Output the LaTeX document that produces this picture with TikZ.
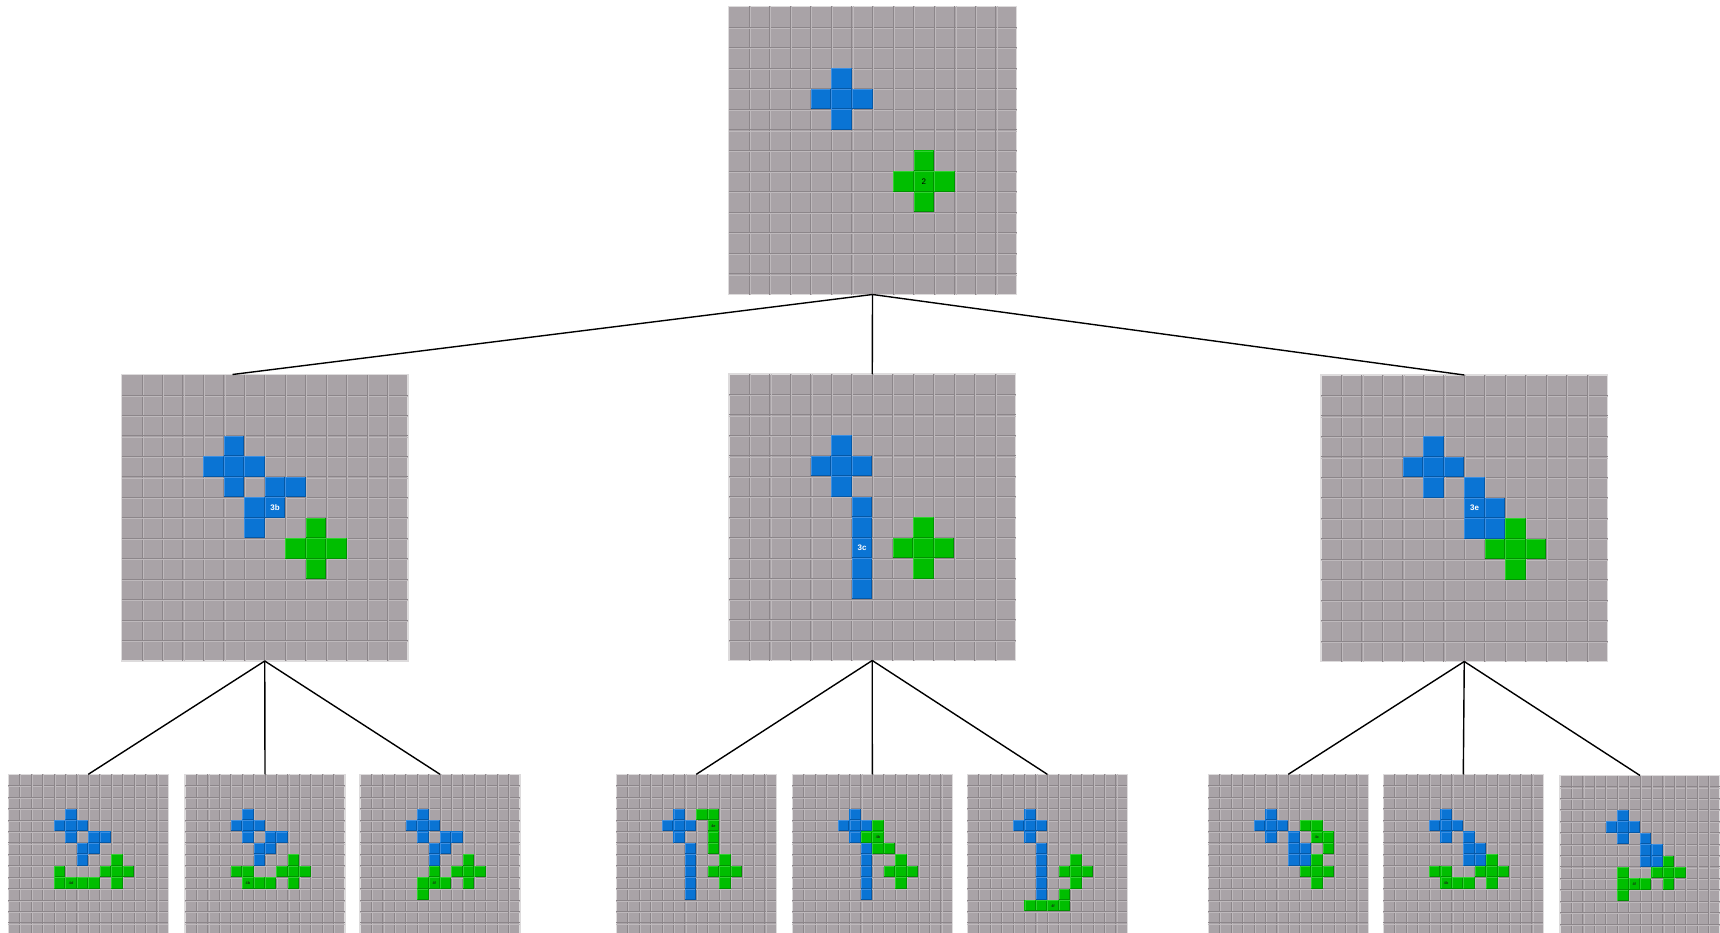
\documentclass[tikz,border=0pt]{standalone}
\usepackage{fontspec}
\newfontfamily\labfont{Liberation Sans}
\usetikzlibrary{calc}

\definecolor{boardgray}{HTML}{A9A3A7}
\definecolor{boardline}{HTML}{8C868A}
\definecolor{boardhi}{HTML}{BEB9BC}
\definecolor{boardedge}{HTML}{DDDBDC}
\definecolor{bl}{HTML}{0A74D4}
\definecolor{blhi}{HTML}{3C8FE2}
\definecolor{bledge}{HTML}{0558A6}
\definecolor{gr}{HTML}{00BE00}
\definecolor{grhi}{HTML}{2FD22F}
\definecolor{gredge}{HTML}{019201}
\definecolor{labdark}{HTML}{143214}

\tikzset{
  board/.style={draw=boardedge, line width=1.4pt, fill=boardgray, inner sep=0pt, outer sep=0pt, anchor=north west},
  link/.style={line width=1.4pt, black},
  biglabel/.style={font=\labfont\bfseries\fontsize{8}{8}\selectfont, text=white, inner sep=0pt},
  toplabel/.style={font=\labfont\fontsize{8}{8}\selectfont, text=black, inner sep=0pt},
  smalllabel/.style={font=\labfont\bfseries\fontsize{3.8}{3.8}\selectfont, text=labdark, inner sep=0pt},
}

% a 14 x 14 board: name, left, top, side
\newcommand\drawboard[4]{%
  \def\bx{#2}\def\by{#3}\pgfmathsetmacro\cs{#4/14}%
  \node[board, minimum width=#4pt, minimum height=#4pt] (#1) at (#2,#3) {};
  \foreach \i in {1,...,13}{
    \draw[boardline, line width=0.9pt] ({#2+\i*\cs},#3) -- ++(0,#4);
    \draw[boardhi, line width=0.6pt] ({#2+\i*\cs+1},#3) -- ++(0,#4);
    \draw[boardline, line width=0.9pt] (#2,{#3+\i*\cs}) -- ++(#4,0);
    \draw[boardhi, line width=0.6pt] (#2,{#3+\i*\cs+1}) -- ++(#4,0);
  }
}

% bevelled squares of one colour on the current board: colour, list of col/row
\newcommand\piece[2]{%
  \foreach \c/\r in {#2}{
    \fill[#1] ({\bx+\c*\cs},{\by+\r*\cs}) rectangle ++(\cs,\cs);
    \draw[#1hi, line width=0.7pt] ({\bx+\c*\cs+0.4},{\by+(\r+1)*\cs-0.6}) -- ++(0,-\cs+1) -- ++(\cs-1,0);
    \draw[#1edge, line width=1pt] ({\bx+(\c+1)*\cs-0.5},{\by+\r*\cs+0.6}) -- ++(0,\cs-1.1) -- ++(-\cs+1,0);
  }
}

% text in the middle of one square: name, col, row, text, style
\newcommand\celltext[5]{%
  \node[#5] (#1) at ({\bx+(#2+0.5)*\cs},{\by+(#3+0.5)*\cs}) {#4};
}

\newcommand\blueplus{\piece{bl}{5/3,4/4,5/4,6/4,5/5}}
\newcommand\greenplus{\piece{gr}{9/7,8/8,9/8,10/8,9/9}}
\newcommand\blueW{\blueplus\piece{bl}{7/5,8/5,6/6,7/6,6/7}}
\newcommand\blueI{\blueplus\piece{bl}{6/6,6/7,6/8,6/9,6/10}}
\newcommand\blueP{\blueplus\piece{bl}{7/5,7/6,8/6,7/7,8/7}}

\begin{document}
\begin{tikzpicture}[x=1pt, y=-1pt]
  \useasboundingbox (0,0) rectangle (1720,933);
  \fill[white] (0,0) rectangle (1720,933);
  \clip (0,0) rectangle (1720,933);

  % root
  \drawboard{T}{728.5}{6.5}{288}
  \blueplus\greenplus
  \celltext{lT}{9}{8}{2}{toplabel}

  % second level
  \drawboard{L}{121.5}{374.5}{286.5}
  \blueW\greenplus
  \celltext{lL}{7}{6}{3b}{biglabel}

  \drawboard{C}{729}{374}{286.5}
  \blueI\greenplus
  \celltext{lC}{6}{8}{3c}{biglabel}

  \drawboard{R}{1321}{375}{286.5}
  \blueP\greenplus
  \celltext{lR}{7}{6}{3e}{biglabel}

  % third level, under 3b
  \drawboard{b1}{8.3}{774.3}{160}
  \blueW\greenplus
  \piece{gr}{4/8,4/9,5/9,6/9,7/9}
  \celltext{l1}{5}{9}{4d}{smalllabel}

  \drawboard{b2}{185}{774.3}{160}
  \blueW\greenplus
  \piece{gr}{4/8,5/8,5/9,6/9,7/9}
  \celltext{l2}{5}{9}{4b}{smalllabel}

  \drawboard{b3}{360}{774.3}{160}
  \blueW\greenplus
  \piece{gr}{6/8,5/9,6/9,7/9,5/10}
  \celltext{l3}{6}{9}{4f}{smalllabel}

  % third level, under 3c
  \drawboard{b4}{616.3}{774.3}{160}
  \blueI\greenplus
  \piece{gr}{7/3,8/3,8/4,8/5,8/6}
  \celltext{l4}{8}{4}{4e}{smalllabel}

  \drawboard{b5}{792.3}{774.3}{160}
  \blueI\greenplus
  \piece{gr}{7/4,6/5,7/5,7/6,8/6}
  \celltext{l5}{7}{5}{4b}{smalllabel}

  \drawboard{b6}{967.3}{774.3}{160}
  \blueI\greenplus
  \piece{gr}{8/10,5/11,6/11,7/11,8/11}
  \celltext{l6}{7}{11}{4f}{smalllabel}

  % third level, under 3e
  \drawboard{b7}{1208.3}{774.3}{160}
  \blueP\greenplus
  \piece{gr}{8/4,9/4,9/5,10/5,10/6}
  \celltext{l7}{9}{5}{4c}{smalllabel}

  \drawboard{b8}{1383.3}{774.3}{160}
  \blueP\greenplus
  \piece{gr}{4/8,5/8,5/9,6/9,7/9}
  \celltext{l8}{5}{9}{4b}{smalllabel}

  \drawboard{b9}{1560}{775.5}{160}
  \blueP\greenplus
  \piece{gr}{5/8,5/9,6/9,7/9,5/10}
  \celltext{l9}{6}{9}{4f}{smalllabel}

  % tree edges
  \draw[link] (T.south) -- ([xshift=111pt]L.north west);
  \draw[link] (T.south) -- (C.north);
  \draw[link] (T.south) -- (R.north);
  \draw[link] (L.south) -- (b1.north);
  \draw[link] (L.south) -- (b2.north);
  \draw[link] (L.south) -- (b3.north);
  \draw[link] (C.south) -- (b4.north);
  \draw[link] (C.south) -- (b5.north);
  \draw[link] (C.south) -- (b6.north);
  \draw[link] (R.south) -- (b7.north);
  \draw[link] (R.south) -- (b8.north);
  \draw[link] (R.south) -- (b9.north);
\end{tikzpicture}
\end{document}
